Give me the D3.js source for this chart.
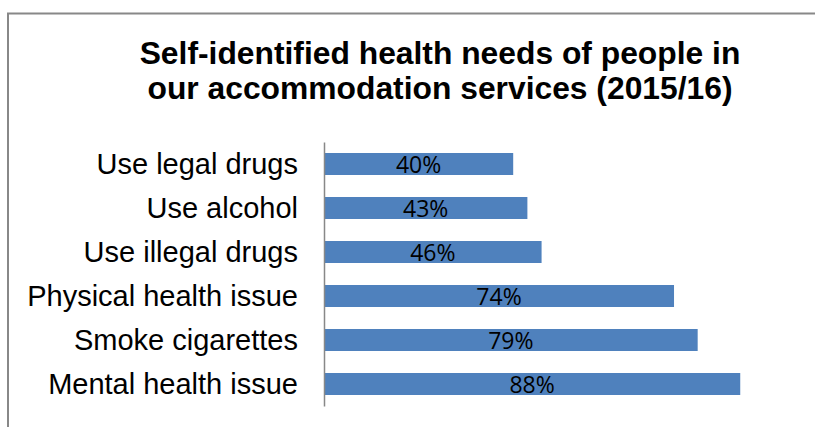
<!DOCTYPE html>
<html>
<head>
<meta charset="utf-8">
<script src="https://cdn.jsdelivr.net/npm/d3@7"></script>
<style>
  html, body { margin: 0; padding: 0; background: #fff; overflow: hidden; }
  svg { display: block; }
</style>
</head>
<body>
<svg id="chart" width="815" height="427"></svg>
<script>
// Chart data (top to bottom)
const categories = ['Use legal drugs', 'Use alcohol', 'Use illegal drugs',
                    'Physical health issue', 'Smoke cigarettes', 'Mental health issue'];
const values = [40, 43, 46, 74, 79, 88];
const titleLines = ['Self-identified health needs of people in',
                    'our accommodation services (2015/16)'];

const svg = d3.select('#chart');
const width = 815, height = 427;

// Outer frame: only the top and left edges fall inside the picture
svg.append('path')
    .attr('d', `M8,${height} V13.5 H${width}`)
    .attr('fill', 'none')
    .attr('stroke', '#888888')
    .attr('stroke-width', 2);

// Title
svg.append('text')
    .attr('x', 440)
    .attr('y', 64)
    .attr('text-anchor', 'middle')
    .style('font-family', '"Liberation Sans", Arial, sans-serif')
    .style('font-weight', 'bold')
    .style('font-size', '31.8px')
    .style('fill', '#000')
    .selectAll('tspan')
    .data(titleLines)
    .enter()
    .append('tspan')
    .attr('x', 440)
    .attr('dy', (d, i) => i === 0 ? 0 : 35)
    .text(d => d);

// Scales
const margin = { left: 324, top: 142, bottom: 406 };
const x = d3.scaleLinear().domain([0, 100]).range([margin.left, 797]);
const y = d3.scaleBand()
    .domain(categories)
    .range([margin.top, margin.bottom])
    .paddingInner(0.5)
    .paddingOuter(0.25);

// Bars
svg.append('g')
    .selectAll('rect')
    .data(values)
    .enter()
    .append('rect')
    .attr('x', x(0))
    .attr('y', (d, i) => y(categories[i]))
    .attr('width', d => x(d) - x(0))
    .attr('height', y.bandwidth())
    .attr('fill', '#4f81bd');

// Value labels, centred in each bar
svg.append('g')
    .selectAll('text')
    .data(values)
    .enter()
    .append('text')
    .attr('x', d => (x(0) + x(d)) / 2)
    .attr('y', (d, i) => y(categories[i]) + y.bandwidth() / 2)
    .attr('dy', '0.4em')
    .attr('text-anchor', 'middle')
    .style('font-family', '"Open Sans", "Noto Sans", sans-serif')
    .style('font-size', '23px')
    .style('fill', '#000')
    .text(d => d + '%');

// Category axis
const yAxis = d3.axisLeft(y).tickSize(0).tickPadding(26);
const axisG = svg.append('g')
    .attr('transform', `translate(${margin.left},0)`)
    .call(yAxis);
axisG.select('.domain')
    .attr('stroke', '#888888')
    .attr('stroke-width', 1.5);
axisG.selectAll('text')
    .attr('dy', '0.35em')
    .style('font-family', '"Liberation Sans", Arial, sans-serif')
    .style('font-size', '29px')
    .style('fill', '#000');
</script>
</body>
</html>
